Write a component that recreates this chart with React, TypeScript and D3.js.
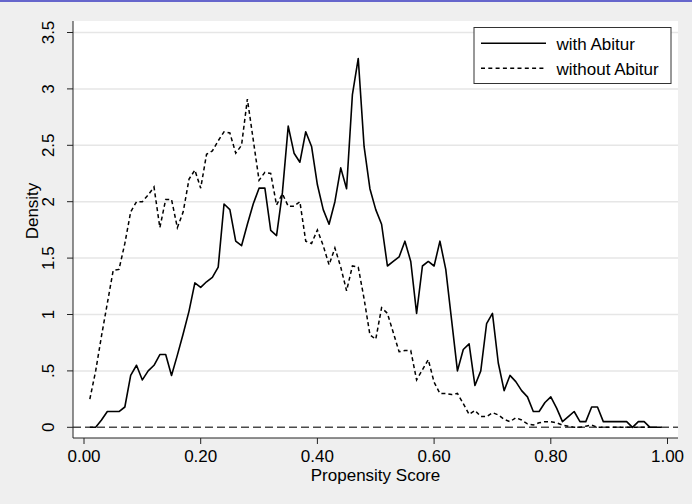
import React from "react";
import * as d3 from "d3";

const xTicks = [0, 0.2, 0.4, 0.6, 0.8, 1.0];
const xTickLabels = ["0.00", "0.20", "0.40", "0.60", "0.80", "1.00"];
const yTicks = [0, 0.5, 1, 1.5, 2, 2.5, 3, 3.5];
const yTickLabels = ["0", ".5", "1", "1.5", "2", "2.5", "3", "3.5"];

// propensity score bins 0.01 .. 0.99
const withAbiturX = d3.range(1, 100).map((i) => i / 100);
const withAbitur = [
  0, 0, 0.065, 0.14, 0.14, 0.14, 0.18, 0.46, 0.55, 0.42,
  0.5, 0.55, 0.645, 0.645, 0.46, 0.64, 0.83, 1.03, 1.28, 1.24,
  1.29, 1.33, 1.42, 1.98, 1.93, 1.65, 1.61, 1.8, 1.98, 2.12,
  2.12, 1.745, 1.7, 2.08, 2.67, 2.43, 2.35, 2.62, 2.49, 2.15,
  1.93, 1.8, 2.0, 2.3, 2.115, 2.95, 3.27, 2.49, 2.115, 1.93,
  1.8, 1.43, 1.47, 1.51, 1.65, 1.47, 1.01, 1.43, 1.47, 1.43,
  1.65, 1.4, 0.95, 0.5, 0.69, 0.74, 0.37, 0.5, 0.92, 1.01,
  0.57, 0.325, 0.46, 0.405, 0.325, 0.27, 0.14, 0.14, 0.22, 0.27,
  0.17, 0.05, 0.095, 0.14, 0.05, 0.05, 0.18, 0.18, 0.05, 0.05,
  0.05, 0.05, 0.05, 0.0, 0.05, 0.05, 0, 0, 0,
];

// bins 0.01 .. 0.97
const withoutAbiturX = d3.range(1, 98).map((i) => i / 100);
const withoutAbitur = [
  0.25, 0.5, 0.81, 1.1, 1.39, 1.4, 1.63, 1.91, 2.0, 2.0,
  2.06, 2.13, 1.77, 2.02, 2.02, 1.77, 1.91, 2.2, 2.28, 2.12,
  2.42, 2.45, 2.54, 2.62, 2.61, 2.43, 2.5, 2.91, 2.55, 2.19,
  2.26, 2.25, 1.97, 2.07, 1.96, 1.96, 2.0, 1.65, 1.63, 1.75,
  1.61, 1.44, 1.59, 1.42, 1.21, 1.43, 1.42, 1.14, 0.82, 0.78,
  1.06, 1.01, 0.84, 0.67, 0.68, 0.68, 0.42, 0.51, 0.6, 0.4,
  0.3, 0.3, 0.29, 0.3, 0.21, 0.115, 0.15, 0.095, 0.095, 0.13,
  0.11, 0.07, 0.05, 0.085, 0.065, 0.03, 0.02, 0.04, 0.05, 0.05,
  0.04, 0.02, 0.01, 0, 0, 0.01, 0.02, 0, 0, 0,
  0, 0, 0, 0, 0, 0, 0,
];

const legendLabels = ["with Abitur", "without Abitur"];

const W = 692;
const H = 504;
const FONT = "'Liberation Sans', Arial, Helvetica, sans-serif";

export default function App() {
  const plotL = 73;
  const plotR = 678;
  const plotT = 21;
  const plotB = 438;

  const x = d3.scaleLinear().domain([0, 1]).range([84, 667.5]);
  const y = d3.scaleLinear().domain([0, 3.5]).range([427.3, 32.5]);

  const line = d3
    .line<[number, number]>()
    .x((d) => x(d[0]))
    .y((d) => y(d[1]));

  const solidPts: [number, number][] = withAbiturX.map((v, i) => [v, withAbitur[i]]);
  const dashPts: [number, number][] = withoutAbiturX.map((v, i) => [v, withoutAbitur[i]]);

  const legX = 474;
  const legY = 27.5;
  const legW = 197;
  const legH = 56;

  return (
    <svg
      width={W}
      height={H}
      style={{ position: "absolute", left: 0, top: 0 }}
      fontFamily={FONT}
    >
      <rect x={0} y={0} width={W} height={H} fill="#efefef" />
      <rect x={0} y={0} width={W} height={2} fill="#6666cc" />
      <rect x={plotL} y={plotT} width={plotR - plotL} height={plotB - plotT} fill="#ffffff" />

      {/* gridlines */}
      {yTicks.slice(1).map((t) => (
        <line
          key={"g" + t}
          x1={plotL}
          x2={plotR}
          y1={y(t)}
          y2={y(t)}
          stroke="#e6e6e6"
          strokeWidth={1.5}
        />
      ))}

      {/* zero reference line */}
      <line
        x1={plotL}
        x2={plotR}
        y1={y(0)}
        y2={y(0)}
        stroke="#4a4a4a"
        strokeWidth={1.4}
        strokeDasharray="8,4"
      />

      {/* series */}
      <path d={line(dashPts) || ""} fill="none" stroke="#000" strokeWidth={1.5} strokeDasharray="4,3" />
      <path d={line(solidPts) || ""} fill="none" stroke="#000" strokeWidth={1.6} strokeLinejoin="round" />

      {/* axes */}
      <line x1={plotL} x2={plotL} y1={plotT} y2={plotB} stroke="#222" strokeWidth={1} />
      <line x1={plotL} x2={plotR} y1={plotB} y2={plotB} stroke="#222" strokeWidth={1} />

      {yTicks.map((t, i) => (
        <g key={"yt" + t}>
          <line x1={plotL - 6} x2={plotL} y1={y(t)} y2={y(t)} stroke="#222" strokeWidth={1} />
          <text
            transform={`translate(53.5,${y(t)}) rotate(-90)`}
            textAnchor="middle"
            fontSize={17}
            fill="#000"
          >
            {yTickLabels[i]}
          </text>
        </g>
      ))}

      {xTicks.map((t, i) => (
        <g key={"xt" + t}>
          <line x1={x(t)} x2={x(t)} y1={plotB} y2={plotB + 6} stroke="#222" strokeWidth={1} />
          <text x={x(t)} y={461.7} textAnchor="middle" fontSize={17} fill="#000">
            {xTickLabels[i]}
          </text>
        </g>
      ))}

      <text x={(plotL + plotR) / 2} y={480.7} textAnchor="middle" fontSize={17} fill="#000">
        Propensity Score
      </text>
      <text
        transform={`translate(38,211) rotate(-90)`}
        textAnchor="middle"
        fontSize={17}
        fill="#000"
      >
        Density
      </text>

      {/* legend */}
      <rect x={legX} y={legY} width={legW} height={legH} fill="#fff" stroke="#333" strokeWidth={1} />
      <line x1={481} x2={546} y1={43.3} y2={43.3} stroke="#000" strokeWidth={1.6} />
      <line x1={481} x2={546} y1={68.3} y2={68.3} stroke="#000" strokeWidth={1.5} strokeDasharray="4,3.3" />
      <text x={556.5} y={49.5} fontSize={17} fill="#000">
        {legendLabels[0]}
      </text>
      <text x={556.5} y={74.5} fontSize={17} fill="#000">
        {legendLabels[1]}
      </text>
    </svg>
  );
}
